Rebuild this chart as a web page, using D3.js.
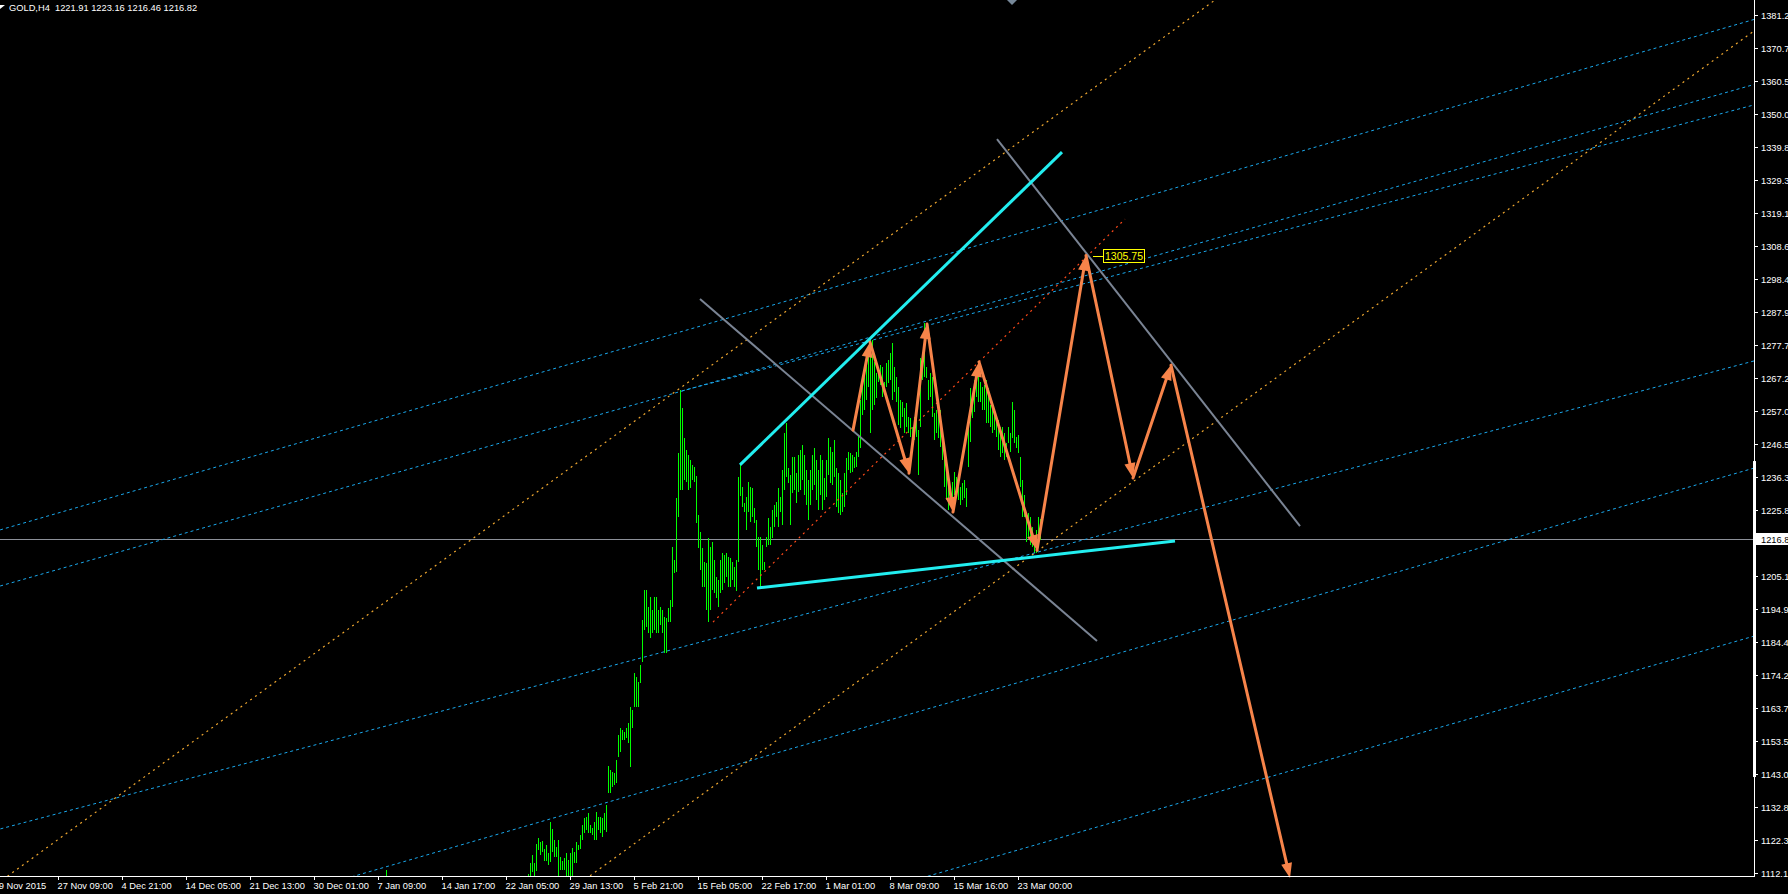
<!DOCTYPE html>
<html><head><meta charset="utf-8">
<script src="https://cdn.jsdelivr.net/npm/d3@7/dist/d3.min.js"></script>
<style>
html,body{margin:0;padding:0;background:#000;overflow:hidden;}
svg{display:block;}
text{font-family:"Liberation Sans",Arial,sans-serif;font-size:9.3px;fill:#fff;}
</style></head><body>
<svg id="chart" width="1788" height="894"></svg>
<script>
// ---------------- DATA ----------------
const symbolTitle = "GOLD,H4";
const lastOHLC = ["1221.91", "1223.16", "1216.46", "1216.82"];
const bidPrice = 1216.82;
const bidLabel = "1216.8";

const xTickLabels = ["19 Nov 2015","27 Nov 09:00","4 Dec 21:00","14 Dec 05:00","21 Dec 13:00",
  "30 Dec 01:00","7 Jan 09:00","14 Jan 17:00","22 Jan 05:00","29 Jan 13:00","5 Feb 21:00",
  "15 Feb 05:00","22 Feb 17:00","1 Mar 01:00","8 Mar 09:00","15 Mar 16:00","23 Mar 00:00"];
const barsPerXTick = 32;

const yTickLabels = ["1381.2","1370.7","1360.5","1350.0","1339.8","1329.3","1319.1","1308.6",
  "1298.4","1287.9","1277.7","1267.2","1257.0","1246.5","1236.3","1225.8","1205.1",
  "1194.9","1184.4","1174.2","1163.7","1153.5","1143.0","1132.8","1122.3","1112.1"];

// H4 bars (bar index of first entry = firstBarIndex)
const firstBarIndex = 267;
const highs = [1111.8,1115.3,1117.8,1115.3,1121.2,1123.1,1121.8,1122.1,1119.6,1120.9,
1118.4,1128.1,1125.9,1122.5,1120.3,1122.5,1117.1,1115.9,1116.8,1118.4,
1116.2,1118.4,1120.0,1118.7,1121.8,1120.9,1124.0,1127.2,1129.4,1129.7,
1130.9,1127.2,1126.2,1128.1,1131.3,1129.7,1129.7,1129.4,1130.9,1133.5,
1145.7,1144.4,1143.8,1143.5,1147.6,1155.4,1157.6,1157.0,1156.3,1157.6,
1159.2,1164.2,1163.2,1174.8,1173.6,1172.0,1177.4,1191.5,1200.9,1200.9,
1195.5,1198.7,1194.6,1198.7,1198.7,1194.6,1195.5,1194.6,1192.4,1192.1,
1195.2,1197.7,1214.4,1210.3,1229.7,1243.8,1263.6,1257.9,1248.5,1244.8,
1243.2,1241.6,1240.1,1239.4,1236.6,1224.4,1219.1,1214.0,1209.6,1209.3,
1217.2,1214.4,1215.9,1210.3,1204.9,1204.0,1210.3,1212.5,1211.8,1212.5,
1211.2,1210.9,1209.6,1208.1,1210.3,1236.3,1240.1,1233.2,1228.2,1230.0,
1234.7,1233.2,1232.9,1226.6,1222.8,1217.5,1217.5,1215.0,1209.6,1217.5,
1223.5,1220.6,1225.9,1227.5,1228.5,1232.9,1230.0,1238.5,1250.1,1253.2,
1239.1,1236.9,1242.6,1242.6,1237.6,1243.2,1244.8,1246.3,1243.2,1238.5,
1235.4,1238.5,1243.2,1245.4,1241.6,1238.5,1243.2,
1241.6,1236.0,1241.6,1248.5,1245.7,1244.1,1247.9,1239.1,1237.6,1235.4,
1231.3,1237.6,1242.3,1244.1,1243.8,1243.2,1242.6,1244.1,1249.5,1260.5,
1268.3,1270.8,1274.6,1276.1,1279.9,1279.3,1272.4,1268.9,1270.5,1271.4,
1270.8,1266.1,1272.1,1273.0,1275.2,1278.3,1270.8,1267.7,1264.5,1260.5,
1259.8,1257.9,1259.5,1255.1,1254.8,1252.0,1255.1,1256.4,1251.1,1273.6,
1273.0,1284.6,1270.8,1266.7,1268.9,1267.7,1256.4,1257.3,1260.5,1257.3,
1250.1,1244.8,1238.5,1237.9,1230.0,1234.7,1237.9,1236.3,1233.2,1233.2,
1234.4,1235.4,1232.9,1254.2,1264.2,1262.7,1266.7,1270.8,1268.3,1266.1,
1264.5,1265.1,1266.7,1264.2,1258.9,1258.3,1257.3,1255.8,1254.2,1252.0,
1252.0,1250.1,1247.0,1252.0,1250.1,1259.8,1257.3,1248.9,1249.5,1242.6,
1235.4,1230.7,1225.0,1225.0,1223.8,1220.6,1216.6,1219.7,1223.8,1223.16];
const lows = [1110.9,1110.9,1112.4,1110.9,1112.7,1119.3,1117.8,1118.7,1115.9,1115.9,
1114.6,1115.6,1118.7,1117.1,1117.1,1110.9,1113.1,1113.1,1113.1,1110.9,
1110.9,1110.9,1110.9,1115.3,1115.3,1119.3,1119.6,1122.5,1124.7,1125.6,
1124.7,1124.7,1124.0,1122.5,1122.5,1125.6,1124.7,1123.4,1125.6,1125.0,
1137.2,1137.2,1139.1,1139.7,1140.3,1148.5,1150.1,1153.8,1153.8,1154.5,
1152.9,1145.4,1157.6,1164.2,1164.2,1164.2,1171.7,1178.3,1188.3,1189.3,
1187.4,1185.8,1187.4,1188.3,1187.4,1187.4,1189.9,1187.4,1181.1,1181.1,
1190.8,1190.8,1195.5,1206.2,1206.5,1223.8,1232.2,1232.2,1235.4,1234.7,
1232.2,1232.9,1235.4,1234.7,1221.9,1214.0,1207.1,1201.8,1201.8,1194.6,
1190.8,1194.6,1200.9,1199.9,1198.4,1195.5,1199.9,1200.9,1203.1,1204.9,
1201.8,1201.8,1204.0,1201.8,1200.6,1209.6,1230.4,1226.9,1225.3,1219.7,
1225.3,1222.2,1223.8,1221.9,1214.4,1207.1,1201.8,1207.1,1207.1,1214.4,
1215.0,1215.0,1217.2,1220.6,1223.8,1220.6,1225.3,1221.3,1232.2,1236.3,
1234.4,1221.3,1231.3,1232.2,1228.2,1231.6,1232.2,1235.4,1230.7,1227.5,
1222.8,1227.5,1232.2,1233.8,1229.1,1226.0,1230.7,
1225.9,1229.1,1230.0,1236.9,1234.4,1233.8,1236.3,1226.9,1225.0,1224.4,
1225.3,1226.9,1230.7,1238.5,1237.6,1237.9,1239.1,1239.4,1242.6,1245.4,
1255.8,1257.3,1260.5,1264.5,1250.1,1257.3,1258.9,1261.1,1266.1,1265.1,
1261.4,1263.0,1264.5,1265.8,1266.7,1260.5,1263.0,1259.8,1252.6,1251.7,
1255.1,1250.1,1252.0,1250.1,1248.9,1247.9,1247.9,1248.9,1236.9,1252.0,
1266.7,1267.7,1267.4,1260.5,1261.4,1255.1,1247.9,1250.1,1248.5,1245.7,
1241.6,1233.2,1229.1,1225.9,1227.5,1228.2,1230.7,1232.9,1229.1,1227.5,
1229.1,1229.7,1226.9,1239.4,1247.3,1254.8,1256.7,1261.4,1259.8,1259.8,
1257.3,1257.3,1253.2,1253.2,1252.0,1250.1,1251.1,1248.9,1244.8,1242.6,
1243.8,1241.6,1242.6,1247.0,1244.1,1248.5,1247.0,1245.4,1243.8,1233.2,
1223.8,1223.8,1215.9,1217.2,1215.0,1214.4,1212.5,1212.5,1215.6,1216.46];
const lonelyBar = {index: 196, high: 1113.1, low: 1108.0};

// Drawn objects: anchors as [bar index, price]
const channelBlueLines = [
  {a:[3,1219.7], b:[880,1379.8], ext:"both"},
  {a:[3,1202.1], b:[880,1359.4], ext:"both"},
  {a:[344,1263.3], b:[880,1353.0], ext:"right"},
  {a:[3,1125.9], b:[880,1272.7], ext:"both"},
  {a:[180.5,1111.2], b:[880,1239.1], ext:"both"},
  {a:[467.5,1111.2], b:[880,1186.4], ext:"both"}
];
const channelOrangeLines = [
  {a:[7,1111.2], b:[610.5,1385.9], ext:"both"},
  {a:[298,1111.2], b:[880,1376.2], ext:"both"}
];
const redDottedLines = [ {a:[359.5,1190.8], b:[565.5,1317.2], ext:"none"} ];
const grayTrendLines = [
  {a:[353,1292.1], b:[551.5,1184.9], ext:"none"},
  {a:[501.5,1342.3], b:[653,1220.9], ext:"none"}
];
const cyanTrendLines = [
  {a:[373,1240.1], b:[534,1338.2], ext:"none"},
  {a:[381.5,1201.5], b:[590.5,1216.2], ext:"none"}
];
const wavePathIdx = [429.5,438,457.5,466.5,479.5,492.5,521.5,546,569.5,588.5,648];
const wavePathPrice = [1251.0,1278.6,1237.5,1284.3,1225.3,1272.4,1213.4,1305.75,1236.0,1271.4,1110.5];
const targetLabel = "1305.75";
const targetPrice = 1305.75;
const shiftMarkerIndex = 509;
const scaleBarRange = [1241.3, 1142.2];

// ---------------- SCALES ----------------
const W = 1788, H = 894, plotR = 1754, plotB = 876;
const x = d3.scaleLinear().domain([0, 880]).range([-6, plotR]);
const y = d3.scaleLinear().domain([1112.1, 1381.2]).range([873, 15]);

const svg = d3.select("#chart");
svg.append("rect").attr("width", W).attr("height", H).attr("fill", "#000");
svg.append("defs").append("clipPath").attr("id","plot")
  .append("rect").attr("x",0).attr("y",0).attr("width",plotR).attr("height",plotB);

const plot = svg.append("g").attr("clip-path","url(#plot)");

// bid line
plot.append("line").attr("x1",0).attr("x2",plotR)
  .attr("y1", Math.round(y(bidPrice))+0.5).attr("y2", Math.round(y(bidPrice))+0.5)
  .attr("stroke","#8c9099").attr("stroke-width",1).attr("shape-rendering","crispEdges");

// bars
const bars = highs.map((h,k)=>({i:firstBarIndex+k, high:h, low:lows[k]}));
bars.push({i: lonelyBar.index, high: lonelyBar.high, low: lonelyBar.low});
plot.append("g").selectAll("line").data(bars).join("line")
  .attr("x1", d=>Math.round(x(d.i))+0.5)
  .attr("x2", d=>Math.round(x(d.i))+0.5)
  .attr("y1", d=>y(d.high)).attr("y2", d=>y(d.low))
  .attr("stroke","#00ff00").attr("stroke-width",1).attr("shape-rendering","crispEdges");

// helper for line objects
function endpoints(o){
  const [i1,p1]=o.a, [i2,p2]=o.b;
  const s=(p2-p1)/(i2-i1);
  let s1=i1, s2=i2;
  if(o.ext==="both"){ s1=-20; s2=920; }
  else if(o.ext==="right"){ s2=920; }
  return [[x(s1), y(p1+s*(s1-i1))],[x(s2), y(p1+s*(s2-i1))]];
}
function drawLines(data, stroke, width, dash){
  plot.append("g").selectAll("line").data(data).join("line")
    .each(function(d){
      const e=endpoints(d);
      d3.select(this).attr("x1",e[0][0]).attr("y1",e[0][1]).attr("x2",e[1][0]).attr("y2",e[1][1]);
    })
    .attr("stroke",stroke).attr("stroke-width",width)
    .attr("stroke-dasharray",dash||null).attr("fill","none");
}
drawLines(channelBlueLines, "#1aa8ec", 1, "3,3");
drawLines(channelOrangeLines, "#f0a830", 1.2, "2,4");
drawLines(redDottedLines, "#ff4a1a", 1.2, "2,4");
drawLines(grayTrendLines, "#7a8494", 2);
drawLines(cyanTrendLines, "#22eef0", 3);

// wave arrows
const wave = wavePathIdx.map((v,k)=>[x(v), y(wavePathPrice[k])]);
const arrowG = svg.append("g");
const headL = 15, headW = 5.5;
for(let k=1;k<wave.length;k++){
  const [x0,y0]=wave[k-1], [x1,y1]=wave[k];
  const dx=x1-x0, dy=y1-y0, L=Math.hypot(dx,dy), ux=dx/L, uy=dy/L;
  const bx=x1-ux*headL, by=y1-uy*headL;
  arrowG.append("line").attr("x1",x0).attr("y1",y0).attr("x2",bx+ux*2).attr("y2",by+uy*2)
    .attr("stroke","#f7844a").attr("stroke-width",3).attr("stroke-linecap","round");
  arrowG.append("polygon")
    .attr("points",[[x1,y1],[bx-uy*headW,by+ux*headW],[bx+uy*headW,by-ux*headW]].map(p=>p.join(",")).join(" "))
    .attr("fill","#f7844a");
}

// target price label
const tx = x(wavePathIdx[7]), ty = y(targetPrice);
svg.append("line").attr("x1",tx+7).attr("x2",tx+17).attr("y1",Math.round(ty)+0.5).attr("y2",Math.round(ty)+0.5)
  .attr("stroke","#ffff00").attr("stroke-width",1);
svg.append("rect").attr("x",tx+17.5).attr("y",Math.round(ty)-6.5).attr("width",41).attr("height",13)
  .attr("fill","#000").attr("stroke","#ffff00").attr("stroke-width",1);
svg.append("text").attr("x",tx+38).attr("y",Math.round(ty)+3.5).attr("text-anchor","middle")
  .style("fill","#ffff00").style("font-size","10.5px").text(targetLabel);

// shift marker
const sx = x(shiftMarkerIndex);
svg.append("polygon").attr("points",`${sx-5},0 ${sx+5},0 ${sx},5`).attr("fill","#778899");

// axes
svg.append("line").attr("x1",plotR+0.5).attr("x2",plotR+0.5).attr("y1",0).attr("y2",plotB+1)
  .attr("stroke","#fff").attr("shape-rendering","crispEdges");
svg.append("line").attr("x1",0).attr("x2",plotR+1).attr("y1",plotB+0.5).attr("y2",plotB+0.5)
  .attr("stroke","#fff").attr("shape-rendering","crispEdges");
svg.append("rect").attr("x",plotR-1).attr("width",3)
  .attr("y",y(scaleBarRange[0])).attr("height",y(scaleBarRange[1])-y(scaleBarRange[0])).attr("fill","#fff");

const yAx = svg.append("g");
yTickLabels.forEach(t=>{
  const yy=Math.round(y(+t));
  yAx.append("line").attr("x1",plotR+1).attr("x2",plotR+4).attr("y1",yy+0.5).attr("y2",yy+0.5)
    .attr("stroke","#fff").attr("shape-rendering","crispEdges");
  yAx.append("text").attr("x",plotR+7).attr("y",yy+3.5).text(t);
});
// bid price label box
const by0 = Math.round(y(bidPrice));
svg.append("rect").attr("x",plotR+1).attr("y",by0-6).attr("width",W-plotR).attr("height",12).attr("fill","#fff");
svg.append("text").attr("x",plotR+7).attr("y",by0+3.5).style("fill","#000").text(bidLabel);

const xAx = svg.append("g");
xTickLabels.forEach((t,k)=>{
  const xx=Math.round(x(k*barsPerXTick));
  xAx.append("line").attr("x1",xx+0.5).attr("x2",xx+0.5).attr("y1",plotB).attr("y2",plotB+4)
    .attr("stroke","#fff").attr("shape-rendering","crispEdges");
  xAx.append("text").attr("x",xx-0.5).attr("y",889).text(t);
});

// header
svg.append("polygon").attr("points","0,5 5,5 0,9").attr("fill","#fff");
svg.append("text").attr("x",9).attr("y",11).style("white-space","pre")
  .text(symbolTitle + "  " + lastOHLC.join(" "));
</script>
</body></html>
